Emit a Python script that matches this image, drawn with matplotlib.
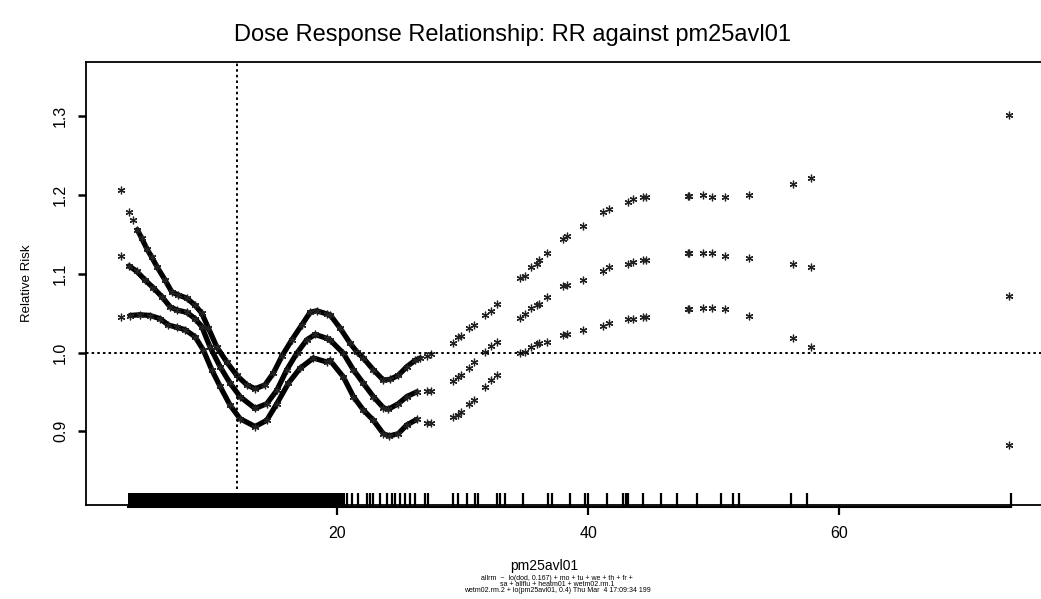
import matplotlib
matplotlib.use("Agg")
import matplotlib.pyplot as plt
import matplotlib.transforms as mtransforms

plt.rcParams['font.family'] = ['Liberation Sans', 'DejaVu Sans']

# ---------------- data ----------------
title = "Dose Response Relationship: RR against pm25avl01"
x_label = "pm25avl01"
y_label = "Relative Risk"
footnote = ["allrm  ~  lo(dod, 0.167) + mo + tu + we + th + fr +",
            "sa + allflu + heatm01 + wetm02.rm.1",
            "wetm02.rm.2 + lo(pm25avl01, 0.4) Thu Mar  4 17:09:34 199"]

x_ticks = [20, 40, 60]
y_ticks = [0.9, 1.0, 1.1, 1.2, 1.3]
y_tick_labels = ["0.9", "1.0", "1.1", "1.2", "1.3"]
ref_rr = 1.0
ref_pm = 12.0

# dense part of the three curves (upper CI, estimate, lower CI)
dense_x_upper = [2.80, 3.43, 3.78, 4.09, 4.44, 4.84, 5.24, 5.69, 6.30, 6.83, 7.36,
                 8.03, 8.69, 9.22, 9.75, 10.42, 11.21, 12.01, 12.81, 13.47, 14.26,
                 14.93, 15.59, 16.39, 17.19, 17.85, 18.38, 19.18, 19.44, 20.24,
                 21.03, 21.57, 22.09, 22.89, 23.68, 24.22, 24.88, 25.55, 26.21, 26.61]
dense_upper = [1.207, 1.179, 1.168, 1.156, 1.145, 1.132, 1.121, 1.108, 1.092, 1.077,
               1.073, 1.069, 1.060, 1.050, 1.031, 1.007, 0.988, 0.971, 0.959, 0.954,
               0.959, 0.974, 0.995, 1.016, 1.035, 1.051, 1.053, 1.049, 1.048, 1.031,
               1.012, 1.001, 0.993, 0.978, 0.965, 0.966, 0.971, 0.982, 0.990, 0.993]

dense_x_mid = [2.80, 3.43, 4.05, 4.71, 5.37, 6.04, 6.70, 7.23, 8.03, 8.69, 9.22,
               9.88, 10.68, 11.48, 12.27, 13.47, 14.40, 15.20, 15.99, 16.79, 17.58,
               18.25, 19.18, 19.44, 20.50, 21.30, 22.09, 22.89, 23.68, 24.08, 24.88,
               25.55, 26.34]
dense_mid = [1.123, 1.110, 1.103, 1.092, 1.082, 1.071, 1.058, 1.054, 1.051, 1.043,
             1.033, 1.007, 0.982, 0.961, 0.944, 0.929, 0.935, 0.952, 0.978, 0.999,
             1.016, 1.023, 1.018, 1.016, 0.999, 0.978, 0.961, 0.944, 0.930, 0.928,
             0.935, 0.944, 0.950]

dense_x_low = [2.80, 3.51, 4.31, 5.11, 5.90, 6.56, 7.23, 7.89, 8.69, 9.35, 10.02,
               10.68, 11.48, 12.27, 13.47, 14.40, 15.20, 16.12, 17.05, 18.11, 19.18,
               19.44, 20.50, 21.30, 22.09, 22.89, 23.68, 24.16, 24.88, 25.55, 26.34]
dense_low = [1.045, 1.047, 1.048, 1.047, 1.043, 1.035, 1.032, 1.029, 1.020, 1.003,
             0.978, 0.957, 0.933, 0.916, 0.906, 0.914, 0.935, 0.961, 0.980, 0.993,
             0.988, 0.990, 0.969, 0.944, 0.927, 0.914, 0.897, 0.894, 0.897, 0.908,
             0.915]

# sparse part (shared x values)
sparse_x = [27.14, 27.48, 29.21, 29.66, 29.87, 30.53, 30.91, 31.78, 32.27, 32.72,
            34.57, 34.97, 35.45, 35.90, 36.11, 36.75, 37.97, 38.34, 39.61, 41.20,
            41.68, 43.15, 43.59, 44.39, 44.61, 47.93, 48.05, 49.17, 49.84, 50.92,
            52.83, 56.33, 57.77, 73.54]
sparse_upper = [0.995, 0.998, 1.012, 1.020, 1.021, 1.031, 1.035, 1.048, 1.053, 1.062,
                1.094, 1.097, 1.108, 1.113, 1.117, 1.126, 1.144, 1.148, 1.161, 1.179,
                1.182, 1.191, 1.195, 1.197, 1.197, 1.199, 1.199, 1.200, 1.197, 1.197,
                1.200, 1.214, 1.222, 1.301]
sparse_mid = [0.951, 0.951, 0.964, 0.969, 0.972, 0.980, 0.988, 1.001, 1.008, 1.014,
              1.044, 1.049, 1.057, 1.060, 1.062, 1.070, 1.084, 1.086, 1.092, 1.103,
              1.108, 1.113, 1.115, 1.118, 1.118, 1.126, 1.126, 1.126, 1.126, 1.123,
              1.120, 1.113, 1.108, 1.072]
sparse_low = [0.910, 0.910, 0.918, 0.921, 0.924, 0.935, 0.940, 0.956, 0.965, 0.971,
              0.999, 1.001, 1.007, 1.011, 1.012, 1.014, 1.022, 1.024, 1.029, 1.034,
              1.037, 1.042, 1.042, 1.045, 1.045, 1.055, 1.055, 1.057, 1.057, 1.055,
              1.047, 1.019, 1.007, 0.882]

# rug (jittered data positions); dense block drawn as a span
rug_dense_range = (3.34, 20.63)
rug_x = [20.77, 21.17, 21.69, 22.36, 22.62, 22.89, 23.42, 23.96, 24.35, 24.62,
         25.01, 25.41, 25.81, 26.21, 27.00, 27.27, 29.26, 29.66, 30.33, 30.99,
         31.25, 32.72, 32.98, 33.38, 34.83, 36.83, 37.10, 38.55, 39.75, 40.01,
         41.48, 42.80, 43.01, 43.20, 44.34, 45.80, 47.05, 48.64, 50.58, 51.51,
         52.01, 56.13, 57.40, 73.67]

# ---------------- figure ----------------
W, H = 1041, 599
fig = plt.figure(figsize=(W / 100, H / 100), dpi=100)
left_px, right_px, top_px, bot_px = 86, 1041, 62, 505
ax = fig.add_axes([left_px / W, 1 - bot_px / H, (right_px - left_px) / W,
                   (bot_px - top_px) / H])
ax.set_xlim(0.0, 76.07)
ax.set_ylim(0.8064, 1.3689)

star = dict(marker=(6, 2, 0), markersize=5.5, markeredgewidth=0.9,
            color='#222222', linestyle='none')

curves = [(dense_x_upper, dense_upper, sparse_upper, 3),
          (dense_x_mid, dense_mid, sparse_mid, 1),
          (dense_x_low, dense_low, sparse_low, 1)]
for dx, dy, sy, start in curves:
    ax.plot(dx[start:], dy[start:], color='black', lw=3.8,
            solid_capstyle='round', solid_joinstyle='round')
    ax.plot(dx, dy, **star)
    ax.plot(sparse_x, sy, **star)

# reference lines
ax.axhline(ref_rr, color='black', lw=1.4, ls=(0, (1.3, 1.6)))
ax.axvline(ref_pm, ymin=0.035, ymax=1.0, color='black', lw=1.4, ls=(0, (1.3, 1.6)))

# rug
trans = mtransforms.blended_transform_factory(ax.transData, ax.transAxes)
ax.fill_between(list(rug_dense_range), [-0.006, -0.006], [0.027, 0.027],
                transform=trans, color='black', lw=0, clip_on=False)
ax.vlines(rug_x, -0.006, 0.027, transform=trans, color='black', lw=1.6,
          clip_on=False)
ax.plot([rug_dense_range[0], rug_x[-1]], [-0.004, -0.004], transform=trans,
        color='black', lw=1.5, clip_on=False)

# spines and ticks
ax.spines['right'].set_visible(False)
for s in ['left', 'top', 'bottom']:
    ax.spines[s].set_linewidth(1.3)

ax.set_xticks(x_ticks)
ax.set_xticklabels([str(v) for v in x_ticks], fontsize=11.5)
ax.set_yticks(y_ticks)
ax.set_yticklabels(y_tick_labels, rotation=90, va='center', fontsize=11.5)
ax.tick_params(axis='x', direction='out', length=7, width=1.6, pad=8)
ax.tick_params(axis='y', direction='out', length=6, width=1.8, pad=7)

ax.set_ylabel(y_label, fontsize=9.5, labelpad=14)

# title & x label & footnote as figure text
fig.text(512 / W, 1 - 35 / H, title, ha='center', va='center', fontsize=17)
fig.text(544 / W, 1 - 566 / H, x_label, ha='center', va='center', fontsize=10)
for i, line in enumerate(footnote):
    fig.text(557 / W, 1 - (578 + 6.5 * i) / H, line, ha='center', va='center',
             fontsize=5.0)

fig.savefig("out.png", dpi=100)
